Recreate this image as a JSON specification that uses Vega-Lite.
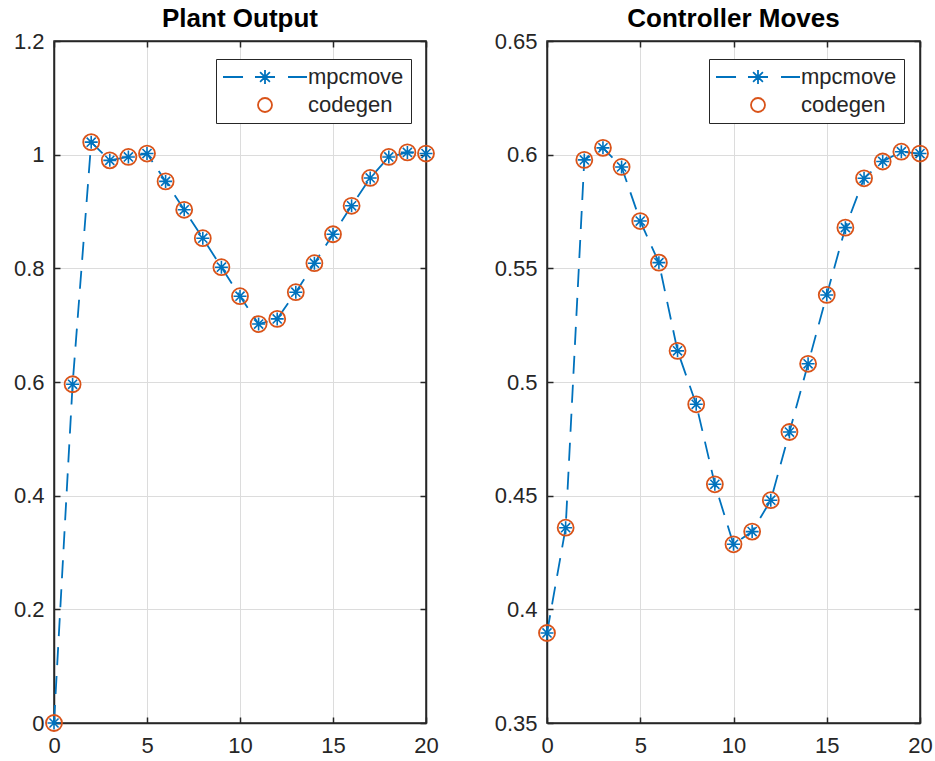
{
  "$schema": "https://vega.github.io/schema/vega-lite/v6.json",
  "background": "white",
  "padding": {"left": 12, "top": 5, "right": 0, "bottom": 0},
  "bounds": "flush",
  "spacing": 121,
  "datasets": {
    "plant": [
      {"t": 0, "value": 0},
      {"t": 1, "value": 0.596},
      {"t": 2, "value": 1.022},
      {"t": 3, "value": 0.990},
      {"t": 4, "value": 0.996},
      {"t": 5, "value": 1.002},
      {"t": 6, "value": 0.953},
      {"t": 7, "value": 0.903},
      {"t": 8, "value": 0.853},
      {"t": 9, "value": 0.802},
      {"t": 10, "value": 0.751},
      {"t": 11, "value": 0.702},
      {"t": 12, "value": 0.711},
      {"t": 13, "value": 0.758},
      {"t": 14, "value": 0.809},
      {"t": 15, "value": 0.860},
      {"t": 16, "value": 0.910},
      {"t": 17, "value": 0.959},
      {"t": 18, "value": 0.996},
      {"t": 19, "value": 1.004},
      {"t": 20, "value": 1.002}
    ],
    "moves": [
      {"t": 0, "value": 0.3896},
      {"t": 1, "value": 0.4359},
      {"t": 2, "value": 0.5977},
      {"t": 3, "value": 0.6030},
      {"t": 4, "value": 0.5946},
      {"t": 5, "value": 0.5708},
      {"t": 6, "value": 0.5525},
      {"t": 7, "value": 0.5137},
      {"t": 8, "value": 0.4902},
      {"t": 9, "value": 0.4550},
      {"t": 10, "value": 0.4286},
      {"t": 11, "value": 0.4342},
      {"t": 12, "value": 0.4480},
      {"t": 13, "value": 0.4780},
      {"t": 14, "value": 0.5080},
      {"t": 15, "value": 0.5383},
      {"t": 16, "value": 0.5679},
      {"t": 17, "value": 0.5896},
      {"t": 18, "value": 0.5970},
      {"t": 19, "value": 0.6013},
      {"t": 20, "value": 0.6005}
    ]
  },
  "config": {
    "font": "Liberation Sans",
    "view": {"stroke": "#262626", "strokeWidth": 1.5},
    "axis": {
      "title": null,
      "format": "~g",
      "labelFlush": false,
      "labelOverlap": false,
      "labelFont": "Liberation Sans",
      "labelFontSize": 22,
      "labelColor": "#262626",
      "domainColor": "#262626",
      "domainWidth": 1.5,
      "tickColor": "#262626",
      "tickWidth": 1.5,
      "tickSize": -6,
      "gridColor": "#dcdcdc",
      "gridWidth": 1
    },
    "axisX": {"labelPadding": 18},
    "axisY": {"labelPadding": 16},
    "title": {
      "font": "Liberation Sans",
      "fontSize": 26,
      "fontWeight": "bold",
      "color": "#000000",
      "anchor": "middle",
      "offset": -2
    },
    "legend": {
      "orient": "none",
      "legendX": 162,
      "legendY": 18,
      "title": null,
      "labelFont": "Liberation Sans",
      "labelFontSize": 22,
      "labelColor": "#262626",
      "strokeColor": "#262626",
      "fillColor": "white",
      "padding": 7,
      "rowPadding": 6,
      "symbolOffset": 31,
      "labelOffset": 32,
      "symbolSize": 196
    }
  },
  "resolve": {"legend": {"color": "independent"}},
  "hconcat": [
    {
      "title": "Plant Output",
      "width": 372,
      "height": 682,
      "data": {"name": "plant"},
      "transform": [{"fold": ["mpcmove", "codegen"], "as": ["series", "dummy"]}],
      "encoding": {
        "x": {"field": "t", "type": "quantitative", "scale": {"domain": [0, 20], "nice": false}},
        "y": {"field": "value", "type": "quantitative", "scale": {"domain": [0, 1.2], "nice": false}},
        "color": {
          "field": "series", "type": "nominal",
          "scale": {"domain": ["mpcmove", "codegen"], "range": ["#0072BD", "#D95319"]},
          "legend": {
            "encode": {
              "symbols": {
                "update": {
                  "shape": {"signal": "datum.value === 'mpcmove' ? 'M-6,0L-3.14,0M-1.43,0L1.43,0M3.29,0L6,0M0,-1L0,1M-0.7,-0.7L0.7,0.7M-0.7,0.7L0.7,-0.7' : 'circle'"},
                  "fill": {"value": "transparent"},
                  "strokeWidth": {"value": 1.8}
                }
              }
            }
          }
        }
      },
      "resolve": {"axis": {"x": "independent", "y": "independent"}},
      "layer": [
        {
          "transform": [{"filter": "datum.series === 'mpcmove'"}],
          "mark": {"type": "line", "strokeDash": [18, 11], "strokeWidth": 1.8},
          "encoding": {
            "x": {"field": "t", "type": "quantitative", "axis": {"values": [0, 5, 10, 15, 20], "grid": true}},
            "y": {"field": "value", "type": "quantitative", "axis": {"values": [0, 0.2, 0.4, 0.6, 0.8, 1, 1.2], "grid": true}}
          }
        },
        {
          "transform": [{"filter": "datum.series === 'mpcmove'"}],
          "mark": {"type": "point", "filled": false, "shape": "M-1,0L1,0M0,-1L0,1M-0.7,-0.7L0.7,0.7M-0.7,0.7L0.7,-0.7", "size": 169, "strokeWidth": 1.6, "opacity": 1},
          "encoding": {
            "x": {"field": "t", "type": "quantitative", "axis": null},
            "y": {"field": "value", "type": "quantitative", "axis": null}
          }
        },
        {
          "transform": [{"filter": "datum.series === 'codegen'"}],
          "mark": {"type": "point", "filled": false, "shape": "circle", "size": 256, "strokeWidth": 1.8, "opacity": 1},
          "encoding": {
            "x": {"field": "t", "type": "quantitative", "axis": {"orient": "top", "values": [0, 5, 10, 15, 20], "labels": false, "grid": false}},
            "y": {"field": "value", "type": "quantitative", "axis": {"orient": "right", "values": [0, 0.2, 0.4, 0.6, 0.8, 1, 1.2], "labels": false, "grid": false}}
          }
        }
      ]
    },
    {
      "title": "Controller Moves",
      "width": 373,
      "height": 682,
      "data": {"name": "moves"},
      "transform": [{"fold": ["mpcmove", "codegen"], "as": ["series", "dummy"]}],
      "encoding": {
        "x": {"field": "t", "type": "quantitative", "scale": {"domain": [0, 20], "nice": false}},
        "y": {"field": "value", "type": "quantitative", "scale": {"domain": [0.35, 0.65], "nice": false}},
        "color": {
          "field": "series", "type": "nominal",
          "scale": {"domain": ["mpcmove", "codegen"], "range": ["#0072BD", "#D95319"]},
          "legend": {
            "encode": {
              "symbols": {
                "update": {
                  "shape": {"signal": "datum.value === 'mpcmove' ? 'M-6,0L-3.14,0M-1.43,0L1.43,0M3.29,0L6,0M0,-1L0,1M-0.7,-0.7L0.7,0.7M-0.7,0.7L0.7,-0.7' : 'circle'"},
                  "fill": {"value": "transparent"},
                  "strokeWidth": {"value": 1.8}
                }
              }
            }
          }
        }
      },
      "resolve": {"axis": {"x": "independent", "y": "independent"}},
      "layer": [
        {
          "transform": [{"filter": "datum.series === 'mpcmove'"}],
          "mark": {"type": "line", "strokeDash": [18, 11], "strokeWidth": 1.8},
          "encoding": {
            "x": {"field": "t", "type": "quantitative", "axis": {"values": [0, 5, 10, 15, 20], "grid": true}},
            "y": {"field": "value", "type": "quantitative", "axis": {"values": [0.35, 0.4, 0.45, 0.5, 0.55, 0.6, 0.65], "grid": true}}
          }
        },
        {
          "transform": [{"filter": "datum.series === 'mpcmove'"}],
          "mark": {"type": "point", "filled": false, "shape": "M-1,0L1,0M0,-1L0,1M-0.7,-0.7L0.7,0.7M-0.7,0.7L0.7,-0.7", "size": 169, "strokeWidth": 1.6, "opacity": 1},
          "encoding": {
            "x": {"field": "t", "type": "quantitative", "axis": null},
            "y": {"field": "value", "type": "quantitative", "axis": null}
          }
        },
        {
          "transform": [{"filter": "datum.series === 'codegen'"}],
          "mark": {"type": "point", "filled": false, "shape": "circle", "size": 256, "strokeWidth": 1.8, "opacity": 1},
          "encoding": {
            "x": {"field": "t", "type": "quantitative", "axis": {"orient": "top", "values": [0, 5, 10, 15, 20], "labels": false, "grid": false}},
            "y": {"field": "value", "type": "quantitative", "axis": {"orient": "right", "values": [0.35, 0.4, 0.45, 0.5, 0.55, 0.6, 0.65], "labels": false, "grid": false}}
          }
        }
      ]
    }
  ]
}
